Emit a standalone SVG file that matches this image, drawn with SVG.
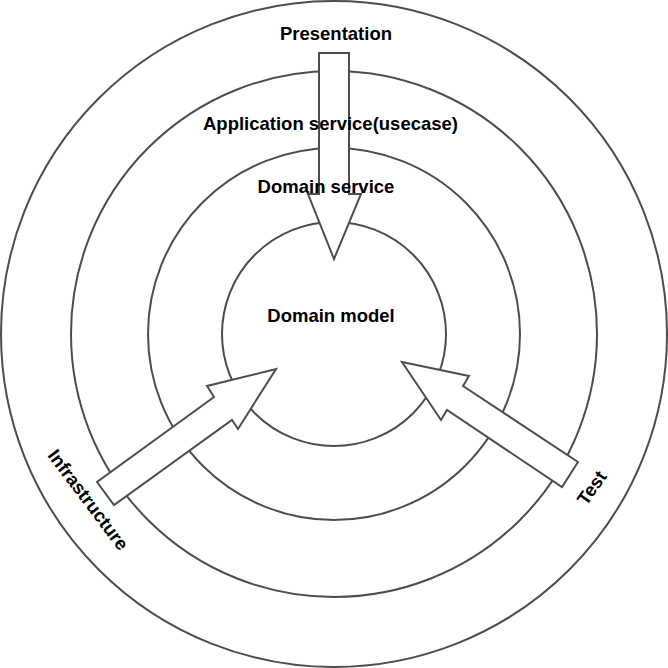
<svg xmlns="http://www.w3.org/2000/svg" width="668" height="668" viewBox="0 0 668 668">
<style>
.ring{fill:none;stroke:#4d4d4d;stroke-width:2}
.arrow{fill:#ffffff;stroke:#4d4d4d;stroke-width:2;stroke-linejoin:miter}
.lbl{font-family:"Liberation Sans",Arial,sans-serif;font-weight:bold;font-size:18.5px;fill:#000000;text-anchor:middle}
</style>
<rect width="668" height="668" fill="#ffffff"/>
<g id="presentation">
<circle class="ring" cx="334" cy="334" r="333"/>
<text class="lbl" x="336" y="40">Presentation</text>
</g>
<g id="application-service">
<circle class="ring" cx="334" cy="334" r="263"/>
</g>
<g id="domain-service">
<circle class="ring" cx="334" cy="334" r="186"/>
</g>
<g id="domain-model">
<circle class="ring" cx="334" cy="334" r="112"/>
</g>
<g id="connectors">
<polygon class="arrow" points="319,53 349,53 349,194 361,194 334,259 308,194 319,194"/>
<polygon class="arrow" points="97,482 114,505 232,420 238,429 276,369 207,386 214,397"/>
<polygon class="arrow" points="578,462 562,487 447,410 441,420 402,362 469,376 463,386"/>
</g>
<g id="labels">
<text class="lbl" x="330.5" y="130">Application service(usecase)</text>
<text class="lbl" x="326" y="193">Domain service</text>
<text class="lbl" x="331" y="322">Domain model</text>
</g>
<g id="infrastructure">
<text class="lbl" transform="translate(88,500) rotate(53)" x="0" y="6">Infrastructure</text>
</g>
<g id="test">
<text class="lbl" transform="translate(592,488) rotate(-55)" x="0" y="6">Test</text>
</g>
</svg>
